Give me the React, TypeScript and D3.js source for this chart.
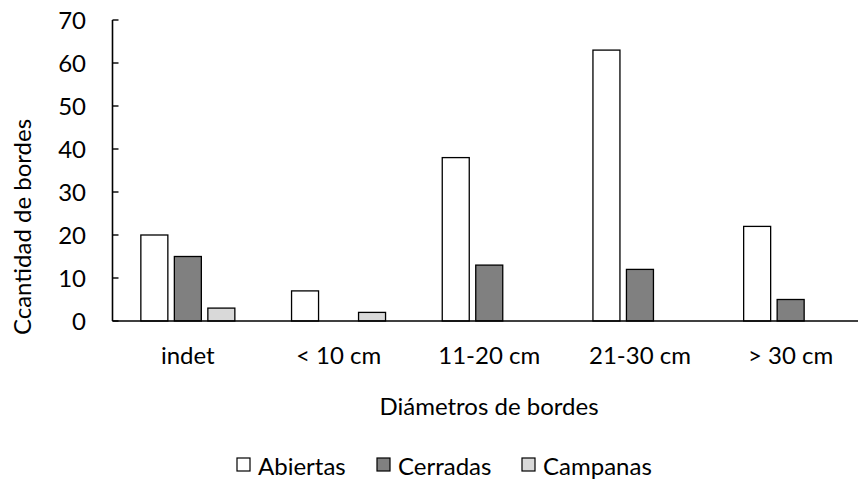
import * as d3 from 'd3'

const categories = ['indet', '< 10 cm', '11-20 cm', '21-30 cm', '> 30 cm']
const series = ['Abiertas', 'Cerradas', 'Campanas']
const abiertas = [20, 7, 38, 63, 22]
const cerradas = [15, 0, 13, 12, 5]
const campanas = [3, 2, 0, 0, 0]
const yTicks = [0, 10, 20, 30, 40, 50, 60, 70]

const values = [abiertas, cerradas, campanas]
const fills = ['#ffffff', '#808080', '#d9d9d9']

const W = 858
const H = 481
const font = 'Lato, Calibri, sans-serif'
const fs = 24

const App = () => {
    const left = 112.5
    const bottom = 321
    const top = 20
    const right = 866

    const x = d3.scaleBand<string>().domain(categories).range([left, right])
    const y = d3.scaleLinear().domain([0, 70]).range([bottom, top])

    // bars inside each group
    const barW = 27
    const barStep = 33.5
    const inner = d3.scaleBand<string>()
        .domain(series)
        .range([x.bandwidth() / 2 - barStep * 1.5, x.bandwidth() / 2 + barStep * 1.5])

    const legendX = [237, 377, 522]

    return (
        <svg width={W} height={H} style={{ position: 'absolute', left: 0, top: 0 }}>
            <rect width={W} height={H} fill="#fff" />
            {categories.map((c, i) => (
                <g key={c} transform={`translate(${x(c)},0)`}>
                    {series.map((s, j) => {
                        const v = values[j][i]
                        if (!v) return null
                        return (
                            <rect
                                key={s}
                                x={(inner(s) as number) + (barStep - barW) / 2}
                                y={y(v)}
                                width={barW}
                                height={bottom - y(v)}
                                fill={fills[j]}
                                stroke="#000"
                                strokeWidth={1.3}
                            />
                        )
                    })}
                </g>
            ))}

            {/* axes */}
            <line x1={left} x2={left} y1={top} y2={bottom} stroke="#000" strokeWidth={1.6} />
            <line x1={left} x2={right} y1={bottom} y2={bottom} stroke="#000" strokeWidth={1.6} />
            {yTicks.map(t => (
                <g key={t}>
                    <line x1={left} x2={left + 6} y1={y(t)} y2={y(t)} stroke="#000" strokeWidth={1.4} />
                    <text x={86} y={y(t)} dy="0.36em" textAnchor="end" fontFamily={font} fontSize={fs} fill="#000">{t}</text>
                </g>
            ))}
            {categories.map(c => (
                <text key={c} x={(x(c) as number) + x.bandwidth() / 2} y={364} textAnchor="middle" fontFamily={font} fontSize={fs} fill="#000">{c}</text>
            ))}

            <text x={489} y={415} textAnchor="middle" fontFamily={font} fontSize={fs} fill="#000">Diámetros de bordes</text>
            <text transform="translate(31,227) rotate(-90)" textAnchor="middle" fontFamily={font} fontSize={fs} fill="#000">Ccantidad de bordes</text>

            {series.map((s, j) => (
                <g key={s} transform={`translate(${legendX[j]},0)`}>
                    <rect x={0} y={458} width={13} height={13} fill={fills[j]} stroke="#000" strokeWidth={1.2} />
                    <text x={21} y={475} fontFamily={font} fontSize={fs} fill="#000">{s}</text>
                </g>
            ))}
        </svg>
    )
}

export default App
